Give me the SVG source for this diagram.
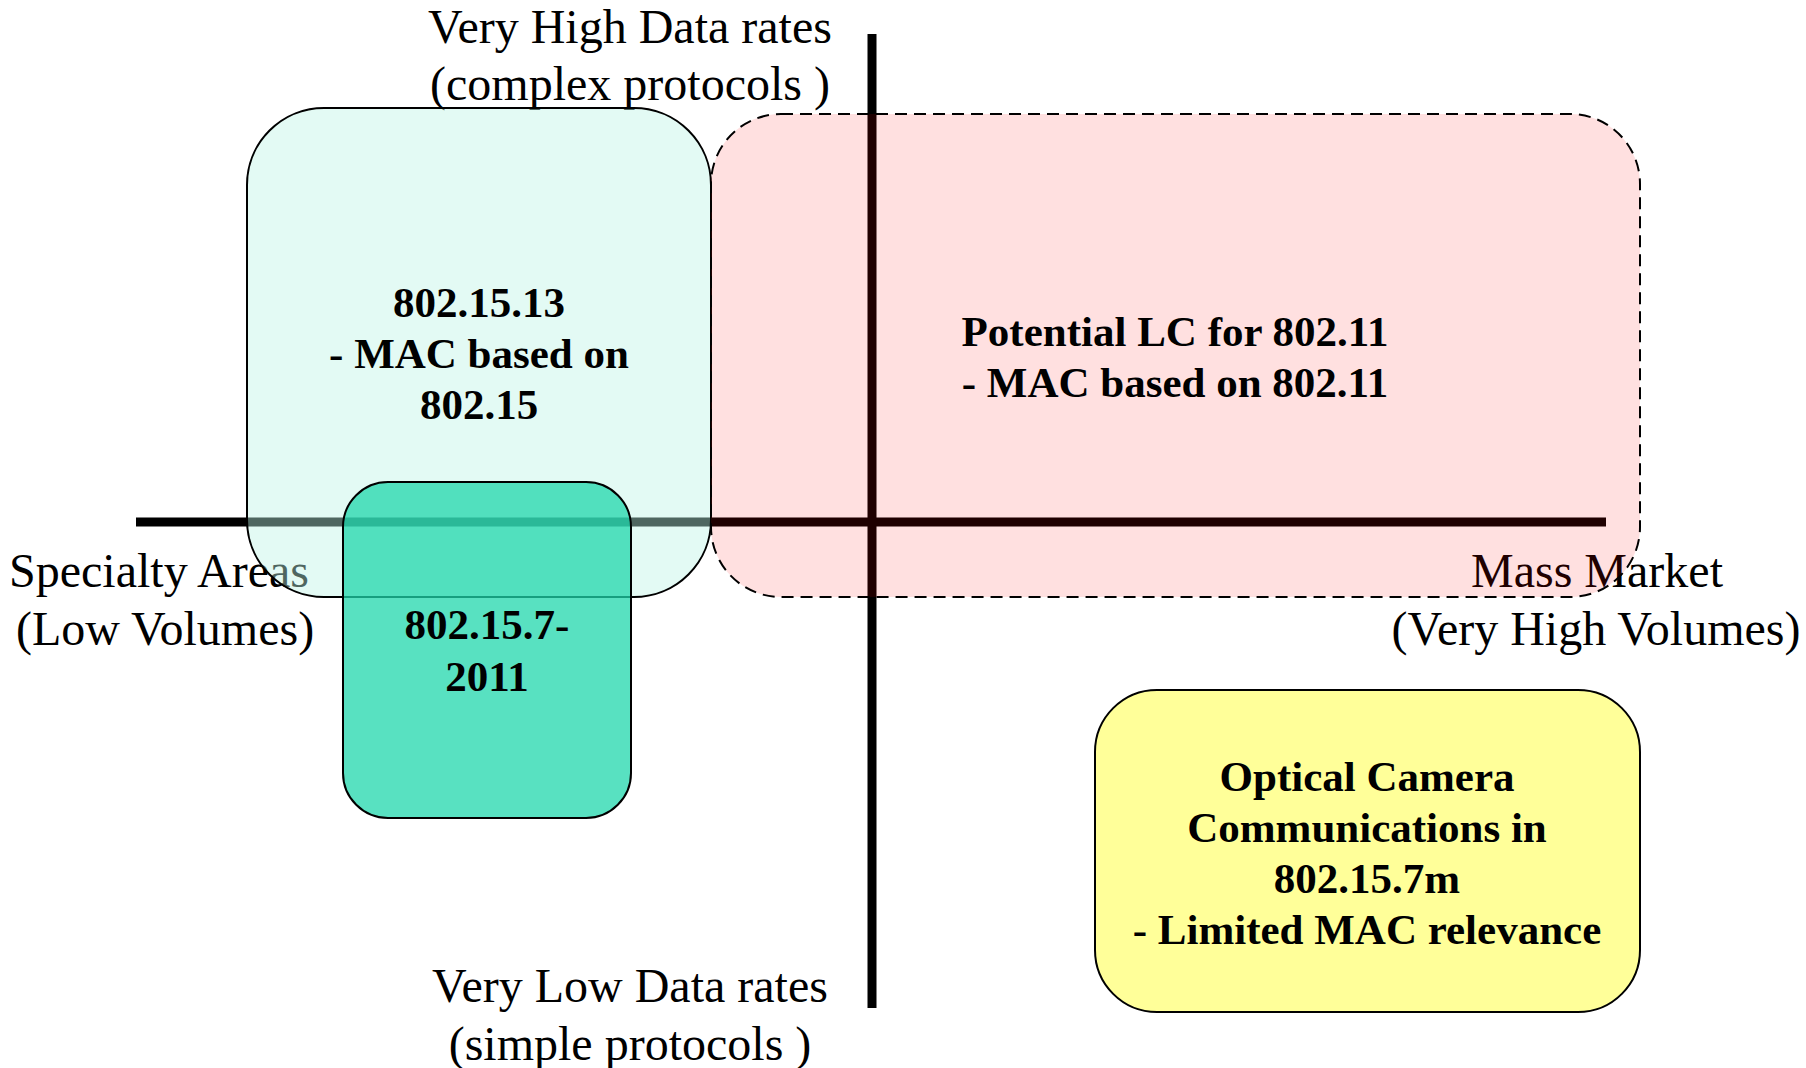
<svg xmlns="http://www.w3.org/2000/svg" width="1806" height="1068" viewBox="0 0 1806 1068">
<style>
.lbl{font-family:"Liberation Serif","Times New Roman",serif;font-size:48px;fill:#000;text-anchor:middle}
.bt{font-family:"Liberation Serif","Times New Roman",serif;font-size:43px;font-weight:bold;fill:#000;text-anchor:middle}
.axis{stroke:#000;stroke-width:9;fill:none}
.box{stroke:#000;stroke-width:2}
</style>
<rect width="1806" height="1068" fill="#fff"/>
<g id="axis-labels">
<text class="lbl" x="630" y="43">Very High Data rates</text>
<text class="lbl" x="630" y="100">(complex protocols )</text>
<text class="lbl" x="630" y="1002">Very Low Data rates</text>
<text class="lbl" x="630" y="1060">(simple protocols )</text>
<text class="lbl" x="159" y="587">Specialty Areas</text>
<text class="lbl" x="165" y="645">(Low Volumes)</text>
<text class="lbl" x="1597" y="587">Mass Market</text>
<text class="lbl" x="1596" y="645">(Very High Volumes)</text>
</g>
<g id="connectors">
<line class="axis" x1="136" y1="522" x2="1606" y2="522"/>
<line class="axis" x1="872" y1="34" x2="872" y2="1008"/>
</g>
<g id="node-802-15-13">
<rect class="box" x="247" y="108" width="464" height="489" rx="77" ry="77" fill="rgb(188,243,229)" fill-opacity="0.42"/>
<text class="bt" x="479" y="317">802.15.13</text>
<text class="bt" x="479" y="368">- MAC based on</text>
<text class="bt" x="479" y="419">802.15</text>
</g>
<g id="node-802-15-7-2011">
<rect class="box" x="343" y="482" width="288" height="336" rx="45" ry="45" fill="rgb(30,214,172)" fill-opacity="0.74"/>
<text class="bt" x="487" y="639">802.15.7-</text>
<text class="bt" x="487" y="691">2011</text>
</g>
<g id="node-lc-802-11">
<rect class="box" x="711" y="114" width="929" height="483" rx="70" ry="70" fill="rgb(255,0,0)" fill-opacity="0.12" stroke-dasharray="12 7"/>
<text class="bt" x="1175" y="346">Potential LC for 802.11</text>
<text class="bt" x="1175" y="397">- MAC based on 802.11</text>
</g>
<g id="node-occ">
<rect class="box" x="1095" y="690" width="545" height="322" rx="62" ry="62" fill="#ffff99"/>
<text class="bt" x="1367" y="791">Optical Camera</text>
<text class="bt" x="1367" y="842">Communications in</text>
<text class="bt" x="1367" y="893">802.15.7m</text>
<text class="bt" x="1367" y="944">- Limited MAC relevance</text>
</g>
</svg>
